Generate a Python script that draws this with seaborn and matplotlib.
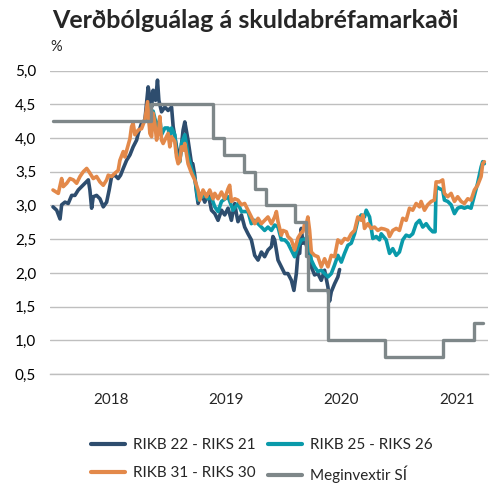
import numpy as np
import pandas as pd
import matplotlib
matplotlib.use("Agg")
import matplotlib.pyplot as plt
import seaborn as sns
from matplotlib.lines import Line2D
from matplotlib.ticker import FixedLocator, FuncFormatter

# ---------------- data (time in decimal years) ----------------
t_rikb22 = [2018.000, 2018.032, 2018.061, 2018.075, 2018.104, 2018.132, 2018.162, 2018.190,
            2018.219, 2018.248, 2018.277, 2018.306, 2018.320, 2018.335, 2018.349, 2018.378,
            2018.407, 2018.436, 2018.465, 2018.487, 2018.508, 2018.537, 2018.565, 2018.586,
            2018.609, 2018.638, 2018.667, 2018.695, 2018.725, 2018.739, 2018.768, 2018.797,
            2018.825, 2018.840, 2018.855, 2018.868, 2018.889, 2018.906, 2018.918, 2018.941,
            2018.970, 2018.998, 2019.028, 2019.042, 2019.071, 2019.100, 2019.128, 2019.143,
            2019.171, 2019.201, 2019.212, 2019.229, 2019.244, 2019.258, 2019.287, 2019.316,
            2019.345, 2019.374, 2019.403, 2019.431, 2019.461, 2019.489, 2019.518, 2019.547,
            2019.561, 2019.576, 2019.590, 2019.604, 2019.634, 2019.662, 2019.691, 2019.720,
            2019.749, 2019.778, 2019.807, 2019.835, 2019.864, 2019.894, 2019.907, 2019.922,
            2019.951, 2019.980, 2020.009, 2020.037, 2020.067, 2020.089, 2020.110, 2020.124,
            2020.139, 2020.153, 2020.167, 2020.182, 2020.210, 2020.240, 2020.268, 2020.297,
            2020.326, 2020.355, 2020.384, 2020.398, 2020.413, 2020.442, 2020.470, 2020.485]
v_rikb22 = [2.98, 2.93, 2.80, 3.01, 3.05, 3.03, 3.15, 3.15,
            3.23, 3.28, 3.33, 3.38, 3.23, 2.96, 3.13, 3.15,
            3.10, 2.98, 3.05, 3.23, 3.43, 3.45, 3.40, 3.45,
            3.55, 3.67, 3.75, 3.87, 3.97, 4.07, 4.22, 4.27,
            4.76, 4.61, 4.46, 4.71, 4.56, 4.86, 4.56, 4.39,
            4.46, 4.41, 4.46, 4.17, 3.87, 3.67, 4.12, 4.24,
            3.97, 3.62, 3.62, 3.45, 3.20, 3.03, 3.18, 3.05,
            3.18, 2.93, 2.88, 2.78, 2.93, 2.86, 2.96, 2.78,
            2.91, 3.03, 2.88, 2.76, 2.86, 2.68, 2.58, 2.49,
            2.26, 2.19, 2.31, 2.24, 2.34, 2.39, 2.54, 2.49,
            2.19, 2.09, 1.99, 1.99, 1.89, 1.74, 1.99, 2.29,
            2.29, 2.66, 2.44, 2.49, 2.34, 2.09, 1.97, 1.99,
            1.89, 2.04, 1.79, 1.58, 1.72, 1.84, 1.94, 2.05]

t_rikb25 = [2018.797, 2018.825, 2018.840, 2018.868, 2018.889, 2018.906, 2018.926, 2018.941,
            2018.970, 2018.998, 2019.013, 2019.028, 2019.056, 2019.071, 2019.100, 2019.114,
            2019.143, 2019.171, 2019.201, 2019.229, 2019.258, 2019.287, 2019.316, 2019.345,
            2019.374, 2019.403, 2019.431, 2019.461, 2019.518, 2019.561, 2019.604, 2019.634,
            2019.691, 2019.720, 2019.749, 2019.807, 2019.835, 2019.864, 2019.894, 2019.922,
            2019.951, 2019.980, 2020.009, 2020.037, 2020.095, 2020.124, 2020.153, 2020.182,
            2020.210, 2020.240, 2020.268, 2020.297, 2020.326, 2020.355, 2020.384, 2020.413,
            2020.442, 2020.470, 2020.500, 2020.528, 2020.557, 2020.586, 2020.615, 2020.643,
            2020.673, 2020.701, 2020.716, 2020.745, 2020.773, 2020.803, 2020.831, 2020.846,
            2020.889, 2020.918, 2020.946, 2020.976, 2021.004, 2021.033, 2021.062, 2021.091,
            2021.119, 2021.149, 2021.178, 2021.206, 2021.236, 2021.264, 2021.293, 2021.313,
            2021.322, 2021.351, 2021.379, 2021.394, 2021.423, 2021.452, 2021.481, 2021.509,
            2021.539, 2021.567, 2021.596, 2021.625, 2021.654, 2021.682, 2021.712, 2021.726,
            2021.740]
v_rikb25 = [4.25, 4.50, 4.15, 4.40, 4.25, 4.10, 4.30, 4.05,
            4.15, 4.15, 4.00, 4.15, 4.05, 3.78, 3.65, 3.92,
            4.05, 3.75, 3.55, 3.40, 3.08, 3.12, 3.15, 3.10,
            3.12, 2.98, 2.91, 3.06, 3.13, 2.93, 3.03, 2.91,
            2.91, 2.73, 2.78, 2.68, 2.63, 2.68, 2.63, 2.71,
            2.68, 2.49, 2.49, 2.44, 2.24, 2.39, 2.49, 2.50,
            2.54, 2.19, 2.09, 2.02, 2.04, 1.99, 1.94, 1.99,
            2.12, 2.26, 2.16, 2.29, 2.41, 2.44, 2.58, 2.78,
            2.86, 2.83, 2.93, 2.83, 2.51, 2.54, 2.49, 2.58,
            2.49, 2.29, 2.36, 2.26, 2.31, 2.49, 2.56, 2.54,
            2.58, 2.73, 2.78, 2.68, 2.73, 2.66, 2.61, 2.61,
            3.28, 3.25, 3.23, 3.08, 3.06, 3.01, 2.88, 2.96,
            2.98, 2.96, 2.98, 2.96, 3.15, 3.33, 3.57, 3.65,
            3.62]

t_rikb31 = [2018.000, 2018.046, 2018.075, 2018.089, 2018.119, 2018.147, 2018.176, 2018.205,
            2018.234, 2018.262, 2018.292, 2018.320, 2018.349, 2018.378, 2018.407, 2018.436,
            2018.465, 2018.479, 2018.508, 2018.537, 2018.565, 2018.580, 2018.609, 2018.623,
            2018.652, 2018.667, 2018.681, 2018.695, 2018.710, 2018.739, 2018.768, 2018.797,
            2018.820, 2018.840, 2018.855, 2018.868, 2018.883, 2018.898, 2018.918, 2018.926,
            2018.941, 2018.955, 2018.984, 2018.998, 2019.013, 2019.028, 2019.056, 2019.071,
            2019.085, 2019.100, 2019.114, 2019.128, 2019.143, 2019.171, 2019.201, 2019.229,
            2019.258, 2019.273, 2019.301, 2019.331, 2019.359, 2019.388, 2019.403, 2019.431,
            2019.461, 2019.489, 2019.518, 2019.532, 2019.547, 2019.576, 2019.604, 2019.634,
            2019.662, 2019.691, 2019.720, 2019.749, 2019.778, 2019.807, 2019.835, 2019.864,
            2019.894, 2019.922, 2019.937, 2019.951, 2019.980, 2019.994, 2020.023, 2020.037,
            2020.067, 2020.095, 2020.124, 2020.153, 2020.167, 2020.182, 2020.197, 2020.210,
            2020.225, 2020.240, 2020.268, 2020.297, 2020.326, 2020.355, 2020.384, 2020.413,
            2020.442, 2020.470, 2020.500, 2020.528, 2020.557, 2020.586, 2020.615, 2020.643,
            2020.673, 2020.687, 2020.701, 2020.730, 2020.759, 2020.788, 2020.816, 2020.846,
            2020.874, 2020.903, 2020.918, 2020.946, 2020.976, 2021.004, 2021.033, 2021.062,
            2021.091, 2021.119, 2021.149, 2021.178, 2021.192, 2021.221, 2021.249, 2021.279,
            2021.307, 2021.322, 2021.351, 2021.379, 2021.394, 2021.423, 2021.452, 2021.481,
            2021.509, 2021.539, 2021.567, 2021.596, 2021.625, 2021.654, 2021.682, 2021.712,
            2021.726, 2021.740]
v_rikb31 = [3.23, 3.18, 3.40, 3.28, 3.33, 3.40, 3.38, 3.33,
            3.43, 3.50, 3.55, 3.48, 3.40, 3.43, 3.35, 3.30,
            3.38, 3.45, 3.43, 3.48, 3.52, 3.67, 3.80, 3.72,
            3.90, 3.99, 4.17, 4.22, 4.05, 4.12, 4.14, 4.27,
            4.54, 4.07, 4.02, 4.37, 4.22, 3.97, 4.14, 4.32,
            3.97, 3.92, 4.02, 4.07, 3.87, 4.02, 3.95, 3.72,
            3.62, 3.67, 3.87, 3.82, 3.92, 3.62, 3.48, 3.38,
            3.23, 3.08, 3.23, 3.13, 3.23, 3.10, 3.18, 3.10,
            3.20, 3.10, 3.25, 3.30, 3.06, 3.10, 3.08, 3.01,
            3.03, 2.93, 2.83, 2.73, 2.81, 2.73, 2.78, 2.83,
            2.73, 2.83, 2.91, 2.76, 2.56, 2.63, 2.61, 2.54,
            2.49, 2.34, 2.52, 2.60, 2.61, 2.73, 2.73, 2.83,
            2.63, 2.31, 2.26, 2.24, 2.09, 2.21, 2.09, 2.26,
            2.24, 2.49, 2.44, 2.51, 2.49, 2.58, 2.63, 2.83,
            2.78, 2.86, 2.66, 2.73, 2.66, 2.68, 2.63, 2.66,
            2.65, 2.63, 2.54, 2.63, 2.66, 2.63, 2.81, 2.78,
            2.96, 2.93, 3.03, 2.98, 3.06, 2.93, 3.01, 3.06,
            3.08, 3.35, 3.35, 3.38, 3.18, 3.13, 3.18, 3.06,
            3.13, 3.06, 3.03, 3.10, 3.08, 3.23, 3.30, 3.43,
            3.62, 3.65]

t_rate = [2018.000, 2018.852, 2019.389, 2019.485, 2019.656, 2019.751, 2019.848, 2020.096,
          2020.192, 2020.211, 2020.384, 2020.880, 2021.378, 2021.648, 2021.730]
v_rate = [4.25, 4.50, 4.00, 3.75, 3.50, 3.25, 3.00, 2.75,
          2.25, 1.75, 1.00, 0.75, 1.00, 1.25, 1.25]

series_names = ["RIKB 22 - RIKS 21", "RIKB 25 - RIKS 26", "RIKB 31 - RIKS 30"]
rate_name = "Meginvextir SÍ"
years = [2018, 2019, 2020, 2021]
y_ticks = [0.5, 1.0, 1.5, 2.0, 2.5, 3.0, 3.5, 4.0, 4.5, 5.0]

colors = {"RIKB 22 - RIKS 21": "#2E4D6E",
          "RIKB 25 - RIKS 26": "#0A9AAA",
          "RIKB 31 - RIKS 30": "#E3894A",
          rate_name: "#7E8789"}

# ---------------- build frame ----------------
df = pd.concat([
    pd.DataFrame({"t": t_rikb22, "v": v_rikb22, "series": series_names[0]}),
    pd.DataFrame({"t": t_rikb25, "v": v_rikb25, "series": series_names[1]}),
    pd.DataFrame({"t": t_rikb31, "v": v_rikb31, "series": series_names[2]}),
], ignore_index=True)
df_rate = pd.DataFrame({"t": t_rate, "v": v_rate})

sns.set_theme(style="white")
plt.rcParams["font.family"] = ["Lato", "DejaVu Sans"]

fig = plt.figure(figsize=(4.92, 4.83), dpi=100)
ax = fig.add_axes([50/492, 1-374/483, 438/492, (374-70.7)/483])

sns.lineplot(data=df, x="t", y="v", hue="series", hue_order=series_names,
             palette=colors, estimator=None, sort=False, linewidth=2.6,
             legend=False, ax=ax)
sns.lineplot(data=df_rate, x="t", y="v", color=colors[rate_name],
             drawstyle="steps-post", estimator=None, sort=False,
             linewidth=2.4, legend=False, ax=ax)

ax.set_xlim(2018 - 3/115.3, 2021 + 89/115.3)
ax.set_ylim(0.5, 5.0)
ax.set_yticks(y_ticks)
ax.yaxis.set_major_formatter(FuncFormatter(lambda v, p: f"{v:.1f}".replace(".", ",")))
ax.grid(axis="y", color="#BFBFBF", linewidth=1.0)
ax.set_axisbelow(True)
ax.tick_params(axis="y", length=0, labelsize=11, pad=10, colors="#000000")

ax.xaxis.set_major_locator(FixedLocator(years))
ax.xaxis.set_minor_locator(FixedLocator([y + 0.5 for y in years]))
ax.xaxis.set_major_formatter(FuncFormatter(lambda v, p: ""))
ax.xaxis.set_minor_formatter(FuncFormatter(lambda v, p: f"{int(v)}"))
ax.tick_params(axis="x", which="major", length=8, width=1.2, color="#A6A6A6", direction="out")
ax.tick_params(axis="x", which="minor", length=0, labelsize=11, pad=14)

for s in ["left", "right", "top"]:
    ax.spines[s].set_visible(False)
ax.spines["bottom"].set_color("#BFBFBF")
ax.spines["bottom"].set_linewidth(1.0)
ax.set_xlabel("")
ax.set_ylabel("")

fig.text(255/492, 1-20/483, "Verðbólguálag á skuldabréfamarkaði", ha="center", va="center",
         fontsize=18, fontweight="bold")
fig.text(56/492, 1-47/483, "%", ha="center", va="center", fontsize=10.5)

handles = [Line2D([], [], color=colors[series_names[0]], lw=3),
           Line2D([], [], color=colors[series_names[2]], lw=3),
           Line2D([], [], color=colors[series_names[1]], lw=3),
           Line2D([], [], color=colors[rate_name], lw=3)]
labels = [series_names[0], series_names[2], series_names[1], rate_name]
fig.legend(handles, labels, ncol=2, loc="upper left", bbox_to_anchor=(85/492, 1-432/483),
           frameon=False, fontsize=11, handlelength=2.2, handletextpad=0.55,
           columnspacing=0.8, labelspacing=0.9, borderaxespad=0)

fig.savefig("out.png", dpi=100)
